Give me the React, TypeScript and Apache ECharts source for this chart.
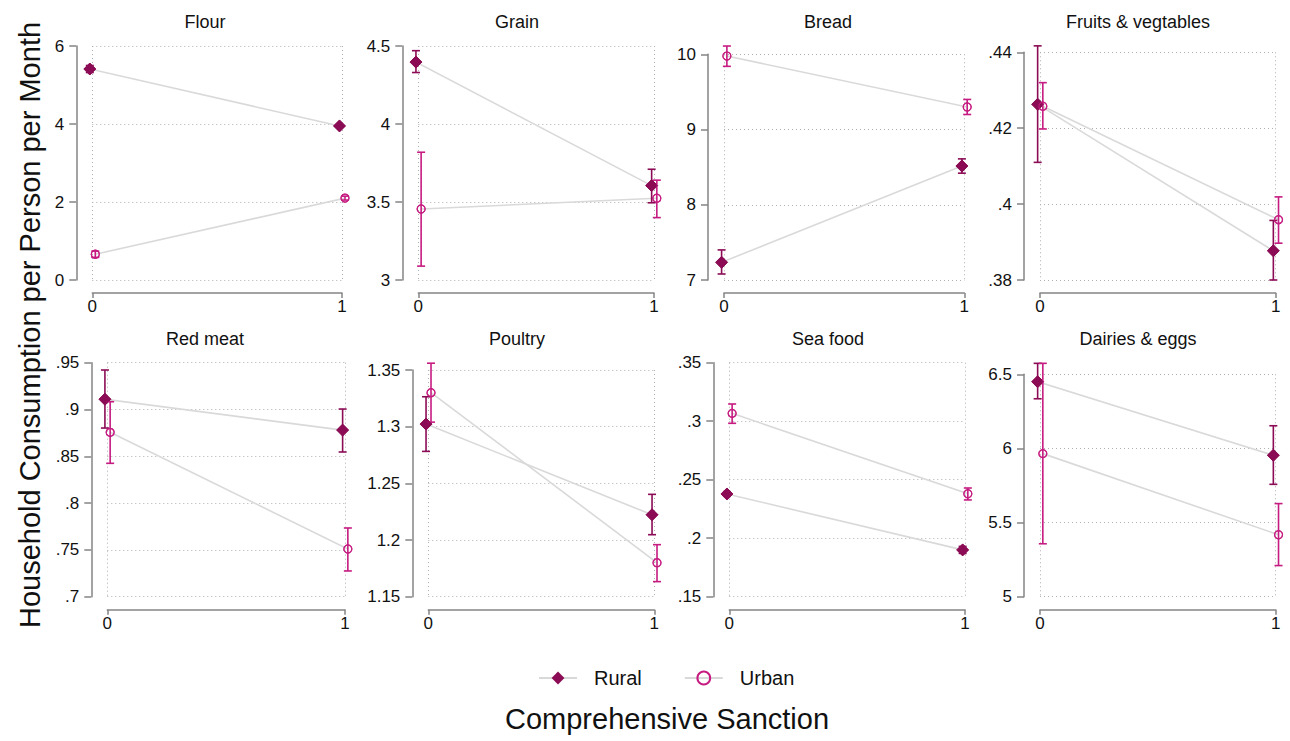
import React, { useEffect, useRef } from "react";
import * as echarts from "echarts";

// ---- data ----
const panelTitles = ["Flour", "Grain", "Bread", "Fruits & vegtables", "Red meat", "Poultry", "Sea food", "Dairies & eggs"];
const sanction = [0, 1];

const ruralMean = [
  [5.41, 3.95], [4.397, 3.605], [7.235, 8.515], [0.4263, 0.3877],
  [0.911, 0.878], [1.3023, 1.2223], [0.2378, 0.19], [6.45, 5.954],
];
const ruralLo = [
  [5.32, 3.92], [4.33, 3.495], [7.08, 8.42], [0.411, 0.38],
  [0.8802, 0.8546], [1.2782, 1.2047], [0.2358, 0.187], [6.335, 5.758],
];
const ruralHi = [
  [5.50, 3.98], [4.47, 3.71], [7.40, 8.61], [0.4417, 0.3957],
  [0.9422, 0.9005], [1.3264, 1.2403], [0.2398, 0.193], [6.574, 6.153],
];
const urbanMean = [
  [0.66, 2.10], [3.455, 3.524], [9.977, 9.30], [0.4258, 0.3959],
  [0.8756, 0.751], [1.33, 1.18], [0.3067, 0.238], [5.965, 5.418],
];
const urbanLo = [
  [0.58, 2.05], [3.089, 3.40], [9.84, 9.20], [0.4198, 0.3897],
  [0.8425, 0.7275], [1.304, 1.1633], [0.2982, 0.2327], [5.357, 5.21],
];
const urbanHi = [
  [0.74, 2.15], [3.819, 3.64], [10.11, 9.40], [0.432, 0.4019],
  [0.9083, 0.7734], [1.356, 1.1959], [0.3147, 0.2429], [6.574, 5.628],
];
// y tick ranges [min, max, step]
const yTickMin = [0, 3, 7, 0.38, 0.7, 1.15, 0.15, 5];
const yTickMax = [6, 4.5, 10, 0.44, 0.95, 1.35, 0.35, 6.5];
const yTickStep = [2, 0.5, 1, 0.02, 0.05, 0.05, 0.05, 0.5];

// ---- layout (pixels) ----
const colX0 = [92.3, 418.3, 724, 1040];
const colX1 = [342, 654, 964.3, 1275.7];
const colX0b = [107.3, 428.3, 729.3, 1040];
const colX1b = [345, 654.3, 965, 1275.7];
const rowTopPx = [[46, 46, 54.3, 52.3], [362.7, 370, 362.7, 374.3]];
const rowBottomPx = [280, 596.7];
const titleY = [8, 325];
const titleCx = [200, 512, 823, 1133];

const RURAL = "#8b0c55";
const URBAN = "#c61b80";
const LINE = "#d9d9d9";
const AXIS = "#858585";
const GRID = "#b0b0b0";
const FONT = "Liberation Sans, Arial, Helvetica, sans-serif";
const RURAL_DX = -0.01;
const URBAN_DX = 0.012;

function fmt(v: number) {
  const s = String(+v.toFixed(4));
  return s.replace(/^0\./, ".").replace(/^-0\./, "-.");
}

export default function App() {
  const ref = useRef<HTMLDivElement>(null);
  useEffect(() => {
    document.body.style.margin = "0";
    const chart = echarts.init(ref.current!, null, { renderer: "svg" });
    const grids: any[] = [];
    const xAxes: any[] = [];
    const yAxes: any[] = [];
    const series: any[] = [];
    const titles: any[] = [];

    const errRender = (color: string) => (params: any, api: any) => {
      const x = api.value(0);
      const lo = api.coord([x, api.value(1)]);
      const hi = api.coord([x, api.value(2)]);
      const cw = 4;
      const st = { stroke: color, lineWidth: 1.6 };
      return {
        type: "group",
        children: [
          { type: "line", shape: { x1: lo[0], y1: lo[1], x2: hi[0], y2: hi[1] }, style: st },
          { type: "line", shape: { x1: lo[0] - cw, y1: lo[1], x2: lo[0] + cw, y2: lo[1] }, style: st },
          { type: "line", shape: { x1: hi[0] - cw, y1: hi[1], x2: hi[0] + cw, y2: hi[1] }, style: st },
        ],
      };
    };

    for (let i = 0; i < 8; i++) {
      const r = Math.floor(i / 4);
      const c = i % 4;
      const x0 = r === 0 ? colX0[c] : colX0b[c];
      const x1 = r === 0 ? colX1[c] : colX1b[c];
      const top = rowTopPx[r][c];
      const bottom = rowBottomPx[r];
      grids.push({ left: x0, top, width: x1 - x0, height: bottom - top });
      titles.push({
        text: panelTitles[i],
        left: titleCx[c],
        top: titleY[r],
        textAlign: "center",
        textStyle: { fontFamily: FONT, fontSize: 18, fontWeight: "normal", color: "#111" },
      });
      xAxes.push({
        type: "value",
        gridIndex: i,
        min: 0,
        max: 1,
        interval: 1,
        offset: 13,
        axisLine: { show: true, onZero: false, lineStyle: { color: AXIS, width: 1.5 } },
        axisTick: { show: true, length: 5, lineStyle: { color: AXIS, width: 1.5 } },
        axisLabel: { fontFamily: FONT, fontSize: 17, color: "#111", margin: 5 },
        splitLine: { show: true, lineStyle: { color: GRID, type: [1, 3], width: 1 } },
      });
      yAxes.push({
        type: "value",
        gridIndex: i,
        min: yTickMin[i],
        max: yTickMax[i],
        interval: yTickStep[i],
        offset: 16,
        axisLine: { show: true, onZero: false, lineStyle: { color: AXIS, width: 1.5 } },
        axisTick: { show: true, length: 7, lineStyle: { color: AXIS, width: 1.5 } },
        axisLabel: { fontFamily: FONT, fontSize: 17, color: "#111", margin: 12, formatter: (v: number) => fmt(v) },
        splitLine: { show: true, lineStyle: { color: GRID, type: [1, 3], width: 1 } },
      });
      const rData = sanction.map((s, k) => [s + RURAL_DX, ruralMean[i][k]]);
      const uData = sanction.map((s, k) => [s + URBAN_DX, urbanMean[i][k]]);
      series.push({
        type: "custom",
        xAxisIndex: i,
        yAxisIndex: i,
        clip: false,
        z: 3,
        renderItem: errRender(RURAL),
        data: sanction.map((s, k) => [s + RURAL_DX, ruralLo[i][k], ruralHi[i][k]]),
        silent: true,
      });
      series.push({
        type: "custom",
        xAxisIndex: i,
        yAxisIndex: i,
        clip: false,
        z: 3,
        renderItem: errRender(URBAN),
        data: sanction.map((s, k) => [s + URBAN_DX, urbanLo[i][k], urbanHi[i][k]]),
        silent: true,
      });
      series.push({
        name: "Rural",
        type: "line",
        xAxisIndex: i,
        yAxisIndex: i,
        clip: false,
        z: 2,
        data: rData,
        symbol: "diamond",
        symbolSize: 12,
        showSymbol: true,
        lineStyle: { color: LINE, width: 1.6 },
        itemStyle: { color: RURAL, borderColor: RURAL },
      });
      series.push({
        name: "Urban",
        type: "line",
        xAxisIndex: i,
        yAxisIndex: i,
        clip: false,
        z: 2,
        data: uData,
        symbol: "circle",
        symbolSize: 8,
        showSymbol: true,
        lineStyle: { color: LINE, width: 1.6 },
        itemStyle: { color: "rgba(255,255,255,0)", borderColor: URBAN, borderWidth: 1.2 },
      });
      // markers on top of error bars
      series.push({
        type: "scatter",
        xAxisIndex: i,
        yAxisIndex: i,
        clip: false,
        z: 4,
        data: rData,
        symbol: "diamond",
        symbolSize: 12,
        itemStyle: { color: RURAL },
        silent: true,
      });
      series.push({
        type: "scatter",
        xAxisIndex: i,
        yAxisIndex: i,
        clip: false,
        z: 4,
        data: uData,
        symbol: "circle",
        symbolSize: 8,
        itemStyle: { color: "rgba(255,255,255,0)", borderColor: URBAN, borderWidth: 1.2 },
        silent: true,
      });
    }

    chart.setOption({
      animation: false,
      backgroundColor: "#fff",
      title: titles,
      grid: grids,
      xAxis: xAxes,
      yAxis: yAxes,
      series,
      legend: {
        data: ["Rural", "Urban"],
        left: 533,
        top: 663,
        itemWidth: 38,
        itemHeight: 16,
        itemGap: 42,
        textStyle: { fontFamily: FONT, fontSize: 20, color: "#111", padding: [0, 0, 0, 12] },
      },
      graphic: [
        {
          type: "text",
          x: 30,
          y: 325,
          rotation: Math.PI / 2,
          style: {
            text: "Household Consumption per Person per Month",
            fontFamily: FONT,
            fontSize: 29,
            fill: "#111",
            align: "center",
            verticalAlign: "middle",
          },
        },
        {
          type: "text",
          x: 667,
          y: 719,
          style: {
            text: "Comprehensive Sanction",
            fontFamily: FONT,
            fontSize: 29,
            fill: "#111",
            align: "center",
            verticalAlign: "middle",
          },
        },
      ],
    });
    return () => chart.dispose();
  }, []);
  return <div ref={ref} style={{ width: 1290, height: 741 }} />;
}
